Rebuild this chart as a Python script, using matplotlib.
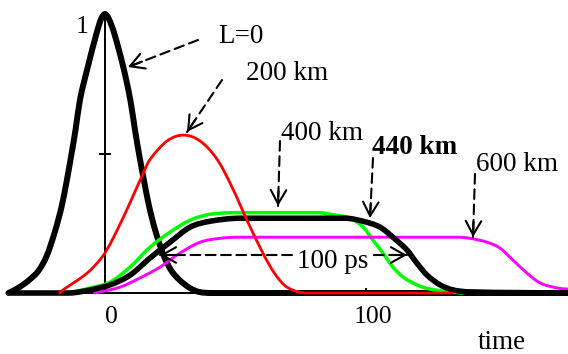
import matplotlib
matplotlib.use('Agg')
import numpy as np
import matplotlib.pyplot as plt
import matplotlib.transforms as mtransforms
from matplotlib.path import Path
from matplotlib.patches import PathPatch

# pulse shapes: time (ps) and normalised power
t_L0 = [-37.0, -33.3, -29.0, -25.3, -22.2, -19.0, -16.5, -14.6, -12.9, -11.3, -9.6, -6.6, -3.2, -1.5,
        0.0, 1.5, 3.5, 7.0, 9.7, 11.5, 13.1, 14.9, 16.8, 19.2, 22.4, 25.3, 28.5, 32.5, 36.0, 41.0, 177.4]
v_L0 = [0.0, 0.018, 0.047, 0.082, 0.136, 0.226, 0.315, 0.405, 0.495, 0.584, 0.692, 0.810, 0.932, 0.982,
        1.0, 0.982, 0.932, 0.810, 0.692, 0.584, 0.495, 0.405, 0.315, 0.226, 0.136, 0.082, 0.047, 0.018,
        0.004, 0.0, 0.0]

t_200 = [-17.5, -16.1, -6.9, -1.1, 2.7, 8.8, 14.6, 17.2, 23.8, 30.0, 36.4, 42.9, 48.7, 54.4, 60.5,
         65.0, 69.7, 77.4, 133.0]
v_200 = [0.0, 0.011, 0.071, 0.129, 0.189, 0.307, 0.429, 0.478, 0.545, 0.566, 0.545, 0.480, 0.379,
         0.261, 0.143, 0.070, 0.021, 0.0, 0.0]

t_400 = [-14.0, -5.7, 1.9, 9.6, 17.2, 24.9, 32.6, 40.2, 51.7, 82.0, 86.2, 93.9, 98.9, 102.7, 106.5,
         110.3, 114.2, 119.5, 124.5, 132.2, 137.0]
v_400 = [0.0, 0.018, 0.039, 0.093, 0.164, 0.218, 0.261, 0.282, 0.288, 0.288, 0.282, 0.268, 0.236,
         0.189, 0.143, 0.093, 0.057, 0.029, 0.014, 0.004, 0.0]

t_440 = [-36.0, -14.0, -5.7, 1.9, 9.6, 17.2, 24.9, 32.6, 40.2, 51.7, 92.0, 98.9, 105.4, 110.3, 115.7,
         119.5, 123.4, 128.4, 133.3, 139.8, 177.4]
v_440 = [0.0, 0.0, 0.011, 0.029, 0.064, 0.125, 0.182, 0.236, 0.257, 0.268, 0.268, 0.257, 0.236, 0.200,
         0.154, 0.107, 0.064, 0.029, 0.011, 0.004, 0.0]

t_600 = [-4.0, 5.7, 13.4, 21.1, 28.7, 36.4, 44.1, 51.7, 135.0, 139.8, 146.4, 151.3, 156.3, 161.7,
         166.7, 173.2, 177.4]
v_600 = [0.0, 0.021, 0.054, 0.093, 0.143, 0.182, 0.196, 0.200, 0.200, 0.196, 0.182, 0.161, 0.118,
         0.071, 0.036, 0.018, 0.014]

x_ticks = [0, 100]
x_tick_labels = ['0', '100']
y_ticks = [0.5]

plt.rcParams['font.family'] = ['Liberation Serif', 'DejaVu Serif']
plt.rcParams['lines.scale_dashes'] = False

W, H = 568, 354
fig = plt.figure(figsize=(W / 100, H / 100), dpi=100)
ax = fig.add_axes([0, 0, 1, 1])
ax.set_xlim(-40.23, 177.39)
ax.set_ylim(-0.2186, 1.0502)
ax.axis('off')

# pixel coords (top-left origin) for the hand placed labels / arrows
px = mtransforms.Affine2D().scale(1 / W, -1 / H).translate(0, 1) + fig.transFigure


def smooth_path(t, v):
    # smooth cubic bezier through the read points (limited slopes so no overshoot)
    t = np.asarray(t, float)
    v = np.asarray(v, float)
    h = np.diff(t)
    d = np.diff(v) / h
    m = np.zeros_like(v)
    m[0], m[-1] = d[0], d[-1]
    for i in range(1, len(t) - 1):
        if d[i - 1] * d[i] <= 0:
            m[i] = 0.0
        else:
            c = (v[i + 1] - v[i - 1]) / (t[i + 1] - t[i - 1])
            lim = 3 * min(abs(d[i - 1]), abs(d[i]))
            m[i] = np.sign(c) * min(abs(c), lim)
    verts = [(t[0], v[0])]
    codes = [Path.MOVETO]
    for i in range(len(h)):
        verts += [(t[i] + h[i] / 3, v[i] + m[i] * h[i] / 3),
                  (t[i + 1] - h[i] / 3, v[i + 1] - m[i + 1] * h[i] / 3),
                  (t[i + 1], v[i + 1])]
        codes += [Path.CURVE4] * 3
    return Path(verts, codes)


def curve(t, v, color, lw, z):
    ax.add_patch(PathPatch(smooth_path(t, v), fill=False, edgecolor=color, lw=lw,
                           joinstyle='round', capstyle='round', zorder=z))


# axes
ax.plot([t_L0[0], t_L0[-1]], [0, 0], color='k', lw=1.4, zorder=1.5)
ax.plot([0, 0], [0, max(v_L0)], color='k', lw=1.4, zorder=1.5)
for yt in y_ticks:
    ax.plot([-1.9, 1.9], [yt, yt], color='k', lw=1.4, zorder=1.5)
for xt in x_ticks[1:]:
    ax.plot([xt, xt], [0, 0.015], color='k', lw=1.4, zorder=1.5)

# curves
curve(t_L0, v_L0, 'k', 4.3, 2.0)
curve(t_400, v_400, '#00ff00', 2.5, 2.1)
curve(t_600, v_600, '#ff00ff', 2.1, 2.2)
curve(t_440, v_440, 'k', 4.0, 2.3)
curve(t_200, v_200, '#ff0000', 2.0, 2.4)


def dashed_arrow(tail, tip, both=False):
    ax.annotate('', xy=tip, xycoords=px, xytext=tail, textcoords=px,
                arrowprops=dict(arrowstyle='-', color='k', lw=1.5, ls=(0, (7, 4)),
                                shrinkA=0, shrinkB=0))
    ends = [(tail, tip)]
    if both:
        ends.append((tip, tail))
    for a, b in ends:
        dx, dy = b[0] - a[0], b[1] - a[1]
        d = (dx * dx + dy * dy) ** 0.5
        start = (b[0] - dx / d * 15, b[1] - dy / d * 15)
        ax.annotate('', xy=b, xycoords=px, xytext=start, textcoords=px,
                    arrowprops=dict(arrowstyle='->,head_length=0.5,head_width=0.28', color='k',
                                    lw=1.5, mutation_scale=20, shrinkA=0, shrinkB=0))


fs = 19.5
ax.text(241, 43, 'L=0', transform=px, fontsize=fs, ha='center', va='baseline')
ax.text(287, 80, '200 km', transform=px, fontsize=fs, ha='center', va='baseline')
ax.text(322, 140, '400 km', transform=px, fontsize=fs, ha='center', va='baseline')
ax.text(415, 154, '440 km', transform=px, fontsize=fs, ha='center', va='baseline', fontweight='bold')
ax.text(517, 171, '600 km', transform=px, fontsize=fs, ha='center', va='baseline')
ax.text(333, 268, '100 ps', transform=px, fontsize=fs, ha='center', va='baseline', zorder=5,
        bbox=dict(boxstyle='square,pad=0.05', fc='white', ec='none'))
ax.text(502, 349, 'time', transform=px, fontsize=fs, ha='center', va='baseline')
ax.text(82.5, 33, '1', transform=px, fontsize=18.5, ha='center', va='baseline')
for xt, lab in zip(x_ticks, x_tick_labels):
    ax.text(xt + 2.6, -0.1075, lab, fontsize=18.5, ha='center', va='baseline')

dashed_arrow((198, 40), (128, 67))
dashed_arrow((222, 80), (187, 132))
dashed_arrow((280, 141), (278, 206))
dashed_arrow((373, 158), (370, 218))
dashed_arrow((475, 174), (473, 237))
dashed_arrow((160, 255), (407, 255), both=True)

fig.savefig('out.png', dpi=100)
